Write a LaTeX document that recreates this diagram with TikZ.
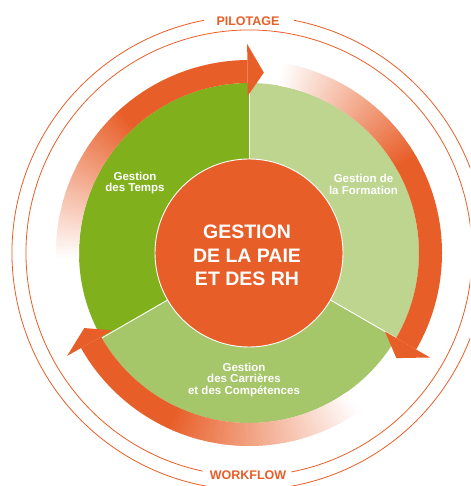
\documentclass[tikz,border=0pt]{standalone}
\usepackage{fontspec}
\setmainfont{Liberation Sans}
\definecolor{orangeC}{HTML}{E85E28}
\definecolor{gdark}{HTML}{80B11D}
\definecolor{glight}{HTML}{BDD58F}
\definecolor{gmid}{HTML}{A6C66A}
\newcommand{\orFade}[2]{%
  \foreach \i in {0,...,59}{%
    \pgfmathsetmacro{\angA}{#1+(#2-#1)*\i/60}%
    \pgfmathsetmacro{\angB}{#1+(#2-#1)*(\i+1.5)/60}%
    \pgfmathsetmacro{\mixp}{(\i+0.5)*100/60}%
    \fill[orangeC!\mixp!white] (\angA:170pt) arc[start angle=\angA, end angle=\angB, radius=170pt] -- (\angB:193pt) arc[start angle=\angB, end angle=\angA, radius=193pt] -- cycle;
  }}
\newcommand{\orBand}[2]{%
  \fill[orangeC] (#1:170pt) arc[start angle=#1, end angle=#2, radius=170pt] -- (#2:193pt) arc[start angle=#2, end angle=#1, radius=193pt] -- cycle;}
\newcommand{\orHead}[2]{%
  \fill[orangeC] (#1:157pt) -- (#2:181pt) -- (#1:209pt) -- cycle;}
\begin{document}
\begin{tikzpicture}[x=1pt,y=1pt,
  ringline/.style={draw=orangeC, line width=0.8pt},
  seglabel/.style={text=white, align=center, inner sep=0pt, font=\fontsize{11.5}{11.5}\selectfont\bfseries},
  coretext/.style={text=white, align=center, inner sep=0pt, font=\fontsize{19.5}{23.5}\selectfont\bfseries},
  corecircle/.style={circle, fill=orangeC, draw=white, line width=0.9pt, minimum size=188pt, inner sep=0pt},
  ringtitle/.style={text=orangeC, inner sep=0pt, font=\fontsize{12.5}{12.5}\selectfont\bfseries},
  divider/.style={draw=white, line width=0.9pt}]
\useasboundingbox (0,0) rectangle (470,486);
\clip (0,0) rectangle (470,486);
\fill[white] (0,0) rectangle (470,486);
\begin{scope}[shift={(249,233)}]
  % sectors
  \fill[gdark] (0,0) -- (90:170pt) arc[start angle=90, end angle=210, radius=170pt] -- cycle;
  \fill[gmid] (0,0) -- (210:170pt) arc[start angle=210, end angle=330, radius=170pt] -- cycle;
  \fill[glight] (0,0) -- (-30:170pt) arc[start angle=-30, end angle=90, radius=170pt] -- cycle;
  \draw[divider] (0,0) -- (90:170pt);
  \draw[divider] (0,0) -- (210:170pt);
  \draw[divider] (0,0) -- (330:170pt);
  % thin rings
  \draw[ringline] (101:237pt) arc[start angle=101, end angle=439, radius=237pt];
  \draw[ringline] (281:223pt) arc[start angle=281, end angle=618, radius=223pt];
  % arrow 1 (top)
  \orFade{182}{132}
  \orBand{132}{90.5}
  \orHead{90.5}{85.3}
  % arrow 2 (right)
  \orFade{80}{30}
  \orBand{30}{-30}
  \orHead{-30}{-35.5}
  % arrow 3 (bottom)
  \orFade{-55}{-115}
  \orBand{-115}{-150.5}
  \orHead{-150.5}{-155.5}
\end{scope}
\node[corecircle] (core) at (249,233) {};
\node[coretext] (coretxt) at (247,230.5) {GESTION\\DE LA PAIE\\ET DES RH};
\node[seglabel] (temps) at (135,303) {Gestion\\des Temps};
\node[seglabel] (formation) at (363.5,301.5) {Gestion de\\la Formation};
\node[seglabel] (carrieres) at (244,106) {Gestion\\des Carrières\\et des Compétences};
\node[ringtitle] (pilotage) at (248,465) {PILOTAGE};
\node[ringtitle] (workflow) at (248,11) {WORKFLOW};
\end{tikzpicture}
\end{document}
